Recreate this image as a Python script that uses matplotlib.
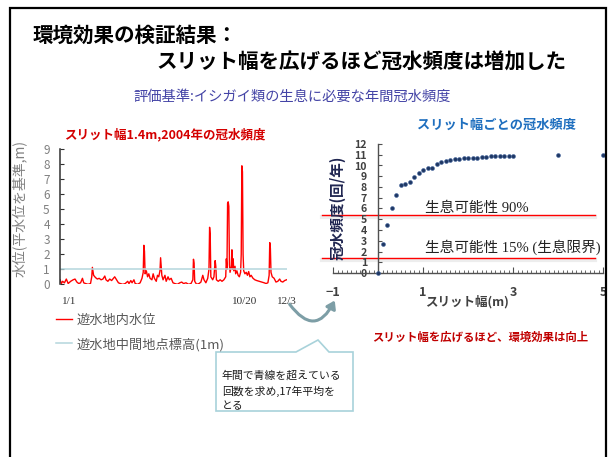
import matplotlib
matplotlib.use("Agg")
import matplotlib.pyplot as plt
import matplotlib.patheffects as pe
from matplotlib.patches import Rectangle, Polygon, FancyArrowPatch

plt.rcParams['font.family'] = ['Noto Sans CJK JP', 'DejaVu Sans']

# daily water level in the retarding basin, 2004 (day of year, m above normal level)
days = [1, 3, 5, 8, 11, 14, 18, 22, 25, 28, 31, 34, 37, 39, 42, 46, 50, 52, 53, 55,
        58, 61, 64, 67, 70, 73, 75, 78, 81, 84, 87, 89, 92, 95, 98, 102, 106, 110, 112, 115,
        117, 120, 122, 126, 130, 133, 135, 136, 137, 138, 140, 142, 144, 146, 149, 151, 153, 156, 158, 160,
        162, 163, 165, 167, 170, 172, 175, 177, 180, 183, 186, 190, 194, 197, 200, 204, 208, 212, 215, 216,
        217, 218, 221, 225, 228, 231, 233, 236, 239, 241, 242, 243, 244, 247, 249, 251, 252, 253, 256, 259,
        262, 265, 268, 269, 270, 271, 272, 273, 274, 275, 277, 278, 279, 280, 281, 283, 284, 286, 288, 290,
        292, 293, 294, 295, 296, 297, 299, 301, 303, 305, 307, 309, 312, 315, 318, 322, 326, 330, 333, 336,
        338, 339, 340, 341, 343, 346, 349, 352, 355, 357, 360, 363, 366]
water_level = [0.3, 0.05, 0.2, 0.1, 0.35, 0.05, 0.2, 0.3, 0.35, 0.15, 0.05, 0.1, 0.4, 0.1, 0.05, 0.0, 0.05, 0.5, 1.13, 0.6,
               0.45, 0.35, 0.4, 0.3, 0.35, 0.55, 0.3, 0.2, 0.35, 0.25, 0.4, 0.5, 0.3, 0.1, 0.05, 0.0, 0.05, 0.2, 0.05, 0.25,
               0.1, 0.3, 0.05, 0.0, 0.1, 0.4, 0.8, 2.6, 2.2, 0.7, 0.9, 0.5, 0.7, 0.4, 0.3, 0.7, 0.4, 0.2, 0.6, 0.5,
               0.9, 1.77, 0.6, 0.3, 0.6, 0.2, 0.5, 0.3, 0.4, 0.1, 0.05, 0.0, 0.1, 0.15, 0.05, 0.1, 0.0, 0.05, 0.3, 1.67,
               1.4, 0.2, 0.0, 0.05, 0.15, 0.6, 0.3, 0.1, 0.4, 1.0, 3.8, 3.3, 0.5, 0.3, 0.5, 1.58, 1.2, 0.3, 0.2, 0.3,
               0.2, 0.3, 0.5, 1.7, 1.0, 5.4, 5.5, 5.2, 1.3, 0.8, 1.2, 2.3, 1.0, 1.7, 0.9, 1.2, 0.7, 0.9, 0.6, 0.5,
               0.8, 2.0, 7.9, 7.5, 2.0, 0.9, 0.7, 0.8, 0.6, 0.85, 0.5, 0.6, 0.4, 0.3, 0.25, 0.2, 0.15, 0.1, 0.05, 0.1,
               0.6, 2.78, 2.4, 0.8, 0.5, 0.4, 0.15, 0.2, 0.35, 0.2, 0.15, 0.25, 0.3]
ground_level = 1.0
date_ticks = [15, 298, 366]
date_labels = ['1/1', '10/20', '12/3']

# annual flooding frequency for each slit width (17-year mean)
slit_width = [0.0, 0.1, 0.2, 0.3, 0.4, 0.5, 0.6, 0.7, 0.8, 0.9, 1.0, 1.1, 1.2, 1.3, 1.4, 1.5, 1.6,
              1.7, 1.8, 1.9, 2.0, 2.1, 2.2, 2.3, 2.4, 2.5, 2.6, 2.7, 2.8, 2.9, 3.0, 4.0, 5.0]
flood_freq = [0.0, 2.7, 4.5, 6.0, 7.3, 8.2, 8.3, 8.5, 8.9, 9.3, 9.6, 9.75, 9.8, 10.1, 10.3, 10.4, 10.5,
              10.6, 10.65, 10.7, 10.7, 10.7, 10.7, 10.75, 10.8, 10.85, 10.9, 10.9, 10.9, 10.9, 10.9, 10.95, 10.95]
habitat_levels = [5.4, 1.4]
habitat_labels = ['生息可能性 90%', '生息可能性 15% (生息限界)']
habitat_label_y = [6.05, 2.42]

W, H = 611, 457
fig = plt.figure(figsize=(W / 100, H / 100), dpi=100)


def fx(px):
    return px / W


def fy(py):
    return 1 - py / H


# slide frame
fig.add_artist(Rectangle((fx(10), fy(470)), fx(596), 462 / H, transform=fig.transFigure,
                         fill=False, edgecolor='black', linewidth=1.6))

fig.text(fx(33), fy(35), '環境効果の検証結果：', fontsize=14.8, fontweight='bold', va='center')
fig.text(fx(156), fy(62), 'スリット幅を広げるほど冠水頻度は増加した', fontsize=14.8, fontweight='bold', va='center')
fig.text(fx(292), fy(97), '評価基準:イシガイ類の生息に必要な年間冠水頻度', fontsize=10.3,
         color='#4444a6', ha='center', va='center')

# --- left: water level time series ---
ax1 = fig.add_axes([fx(59.5), fy(284.3), 227 / W, 135 / H])
red_line, = ax1.plot(days, water_level, color='#ff0000', linewidth=1.0, label='遊水地内水位')
blue_line = ax1.axhline(ground_level, color='#b4d6dc', linewidth=1.1, label='遊水地中間地点標高(1m)')
ax1.set_xlim(0, 366)
ax1.set_ylim(0, 9)
ax1.set_yticks(range(0, 10))
for s in ['top', 'right', 'bottom']:
    ax1.spines[s].set_visible(False)
ax1.spines['left'].set_color('#303030')
ax1.spines['left'].set_linewidth(1.1)
ax1.tick_params(axis='y', direction='in', length=3, width=0.8, color='#303030',
                labelsize=8.5, labelcolor='#808080', pad=7)
ax1.set_xticks(date_ticks)
ax1.set_xticklabels(date_labels, family=['Liberation Serif'], fontsize=8, color='#333333')
ax1.tick_params(axis='x', length=0, pad=9)
ax1.set_ylabel('水位(平水位を基準,m)', fontsize=10, color='#808080')
ax1.yaxis.set_label_coords((27 - 59.5) / 227, 0.56)
fig.text(fx(165), fy(135), 'スリット幅1.4m,2004年の冠水頻度', fontsize=9, fontweight='bold',
         color='#d40000', ha='center', va='center')

fig.legend(handles=[red_line, blue_line], loc='upper left',
           bbox_to_anchor=(fx(56), fy(314)), frameon=False, fontsize=9.5,
           handlelength=1.25, handletextpad=0.3, labelspacing=0.8,
           borderpad=0, borderaxespad=0, labelcolor='#595959')

# --- right: flooding frequency vs slit width ---
ax2 = fig.add_axes([fx(333), fy(273), 270 / W, 129 / H])
for lvl in habitat_levels:
    ax2.plot([-1.25, 4.82], [lvl, lvl], color='#ff0000', linewidth=1.0, clip_on=False, zorder=1,
             path_effects=[pe.SimpleLineShadow(offset=(0, -1.8), shadow_color='#a0a0a0', alpha=0.18,
                                               linewidth=3.0), pe.Normal()])
ax2.plot(slit_width, flood_freq, linestyle='none', marker='o', markersize=2.8,
         color='#1f3864', markeredgecolor='#3d5f9a', markeredgewidth=0.4, clip_on=False, zorder=3)
for label, ly in zip(habitat_labels, habitat_label_y):
    ax2.text(1.05, ly, label, fontsize=10.5, color='#222222',
             family=['Liberation Serif', 'Noto Sans CJK JP'], va='center')

ax2.set_xlim(-1, 5)
ax2.set_ylim(0, 12)
ax2.spines['left'].set_position(('data', 0))
ax2.spines['top'].set_visible(False)
ax2.spines['right'].set_visible(False)
for s in ['left', 'bottom']:
    ax2.spines[s].set_color('#505050')
    ax2.spines[s].set_linewidth(1.0)
ax2.set_yticks(range(0, 13))
ax2.set_xticks([-1, 1, 3, 5])
ax2.set_xticks([v / 10 for v in range(-10, 51)], minor=True)
ax2.tick_params(axis='y', direction='in', length=3, width=0.8, color='#505050',
                labelsize=7.6, labelcolor='#404040', pad=8)
ax2.tick_params(axis='x', which='major', direction='in', length=4, width=0.8, color='#505050',
                labelsize=9, labelcolor='#404040', pad=9)
ax2.tick_params(axis='x', which='minor', direction='in', length=2.5, width=0.6, color='#505050')
for lab in ax2.get_xticklabels() + ax2.get_yticklabels():
    lab.set_fontweight('bold')
ax2.set_xlabel('スリット幅(m)', fontsize=9, fontweight='bold', color='#404040', va='center')
ax2.xaxis.set_label_coords((467 - 333) / 270, (273 - 302) / 129)
ax2.set_ylabel('冠水頻度(回/年)', fontsize=10.5, fontweight='bold', color='#1f2550', va='center')
ax2.yaxis.set_label_coords((338 - 333) / 270, (273 - 208) / 129)
ax2.yaxis.label.set_zorder(5)
fig.text(fx(497), fy(125), 'スリット幅ごとの冠水頻度', fontsize=9.5, fontweight='bold',
         color='#1f6fbf', ha='center', va='center')
fig.text(fx(480), fy(337), 'スリット幅を広げるほど、環境効果は向上', fontsize=8.2, fontweight='bold',
         color='#c00000', ha='center', va='center')

# curved arrow linking the two panels
fig.add_artist(FancyArrowPatch((fx(288), fy(302)), (fx(336), fy(298)), transform=fig.transFigure,
                               connectionstyle='arc3,rad=0.85', arrowstyle='-|>,head_length=4.5,head_width=3',
                               color='#7d9ea6', linewidth=2.2))

# callout box
callout = [(216, 352), (296, 352), (318, 340), (329, 352), (353, 352), (353, 411), (216, 411)]
fig.add_artist(Polygon([(fx(x), fy(y)) for x, y in callout], closed=True, transform=fig.transFigure,
                       facecolor='white', edgecolor='#a8d2da', linewidth=1.2))
fig.text(fx(222), fy(370), '年間で青線を超えている\n回数を求め,17年平均を\nとる', fontsize=7.8,
         color='#1a1a1a', va='top', linespacing=1.55)

fig.savefig('out.png', dpi=100)
